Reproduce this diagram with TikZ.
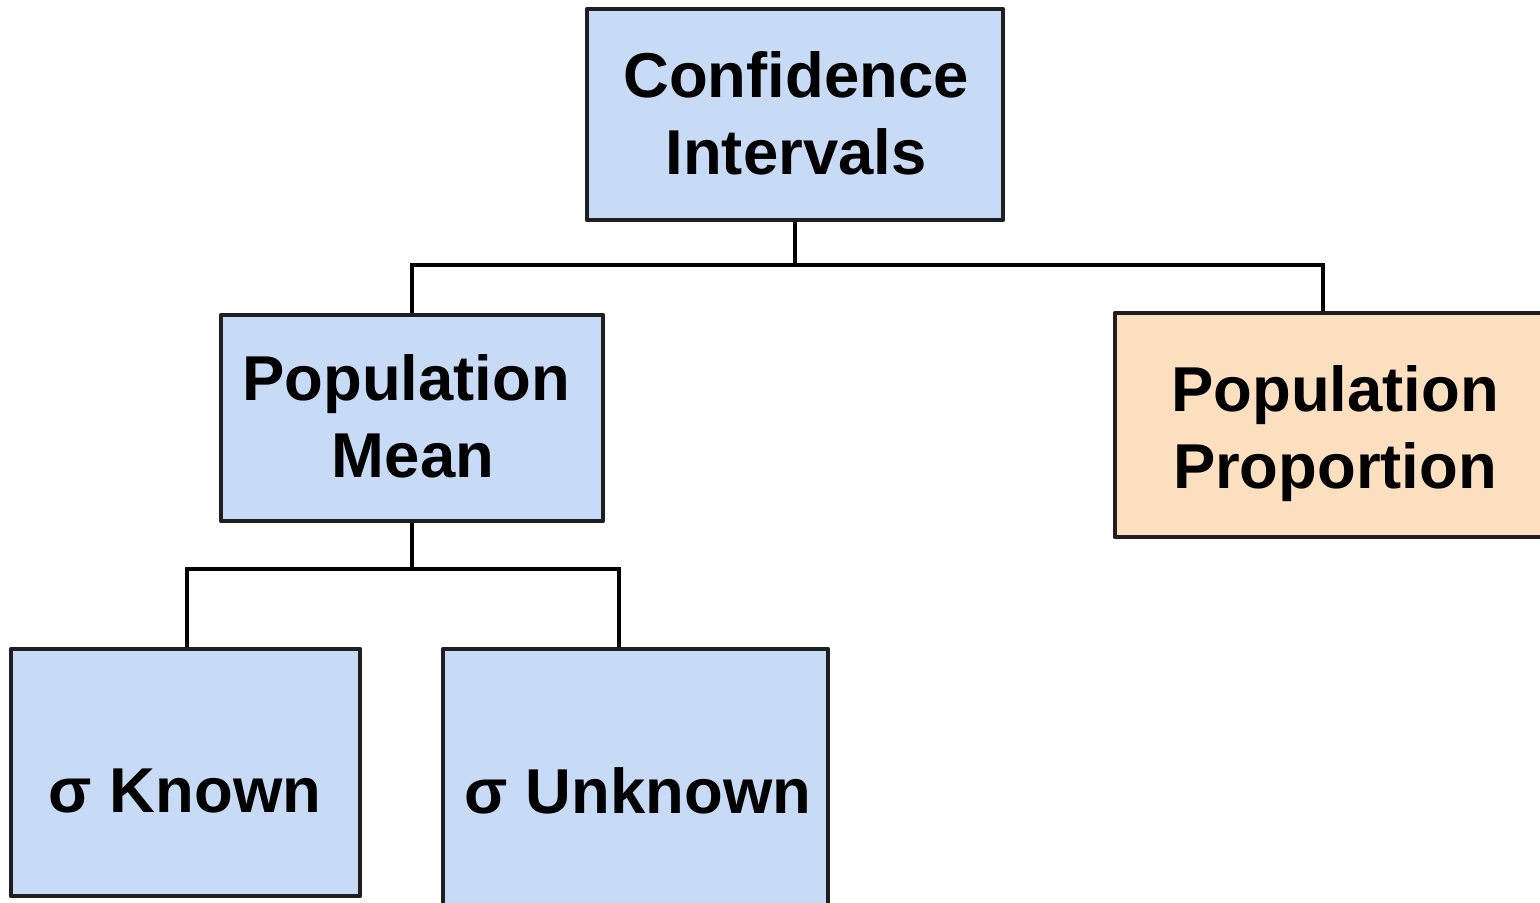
\documentclass[tikz,border=0pt]{standalone}
\usepackage{fontspec}
\setmainfont{Liberation Sans}
\begin{document}
\begin{tikzpicture}[x=0.5pt,y=-0.5pt,
  box/.style={draw=black!88, line width=2.1pt, line join=round, rectangle, inner sep=0pt},
  blue box/.style={box, fill=boxblue},
  orange box/.style={box, fill=boxorange},
  label text/.style={font=\bfseries\fontsize{31.7pt}{38.5pt}\selectfont, align=center, inner sep=0pt},
  link/.style={draw=black, line width=2.4pt, line join=miter}]
\definecolor{boxblue}{RGB}{199,218,246}
\definecolor{boxorange}{RGB}{251,223,191}
\useasboundingbox (0,0) rectangle (1540,903);
\clip (0,0) rectangle (1540,903);
\fill[white] (0,0) rectangle (1540,903);

% boxes
\node[blue box, minimum width=208pt, minimum height=105.5pt] (ci) at (795,114.5) {};
\node[label text] (citext) at (796,113) {Confidence\\Intervals};

\node[blue box, minimum width=191pt, minimum height=103pt] (pm) at (412,418) {};
\node[label text] (pmtext) at (406,416) {Population\\\hspace*{7pt}Mean};

\node[orange box, minimum width=215pt, minimum height=112pt] (pp) at (1330,425) {};
\node[label text] (pptext) at (1335,434) {Population\\Proportion};

\node[blue box, minimum width=174.5pt, minimum height=123.5pt] (sk) at (185.5,772.5) {};
\node[label text] (sktext) at (185,791) {σ Known};

\node[blue box, minimum width=192.5pt, minimum height=131pt] (su) at (635.5,780) {};
\node[label text] (sutext) at (638,791) {σ Unknown};

% tree connectors
\coordinate (j1) at (795,265);
\coordinate (j2) at (411,569);
\draw[link] (ci.south) -- (j1);
\draw[link] (pm.north) -- (pm.north |- j1) -- ([xshift=-3.5pt]pp.north |- j1) -- ([xshift=-3.5pt]pp.north);
\draw[link] (pm.south) -- (pm.south |- j2);
\draw[link] ([xshift=0.75pt]sk.north) -- ([xshift=0.75pt]sk.north |- j2) -- ([xshift=-8.25pt]su.north |- j2) -- ([xshift=-8.25pt]su.north);
\end{tikzpicture}
\end{document}
